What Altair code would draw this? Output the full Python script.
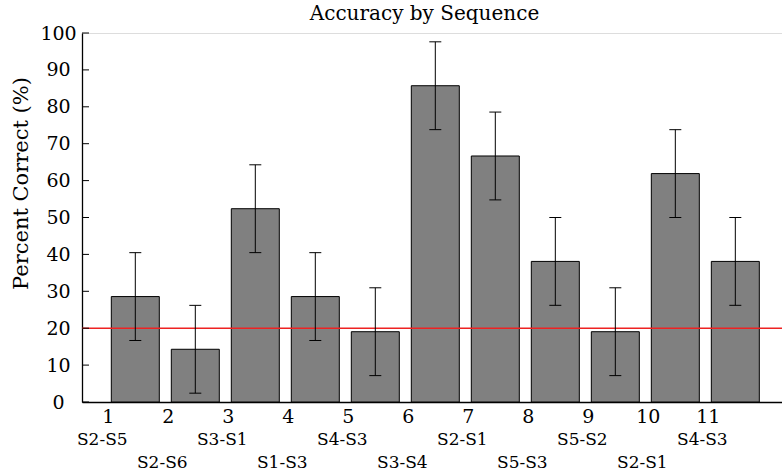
import altair as alt
import pandas as pd

seq_num = [1, 2, 3, 4, 5, 6, 7, 8, 9, 10, 11]
seq_labels = ["S2-S5", "S2-S6", "S3-S1", "S1-S3", "S4-S3", "S3-S4",
              "S2-S1", "S5-S3", "S5-S2", "S2-S1", "S4-S3"]
accuracy = [28.57, 14.29, 52.38, 28.57, 19.05, 85.71, 66.67, 38.10, 19.05, 61.90, 38.10]
error = [11.9, 11.9, 11.9, 11.9, 11.9, 11.9, 11.9, 11.9, 11.9, 11.9, 11.9]
chance_level = [20]
y_ticks = [0, 10, 20, 30, 40, 50, 60, 70, 80, 90, 100]
title_text = ["Accuracy by Sequence"]

FONT = "DejaVu Serif"

df = pd.DataFrame({"num": seq_num, "label": seq_labels, "acc": accuracy, "err": error})
base = alt.Chart(df).transform_calculate(
    lo="datum.num - 0.4",
    hi="datum.num + 0.4",
    cl="datum.num - 0.1",
    cr="datum.num + 0.1",
    elo="datum.acc - datum.err",
    ehi="datum.acc + datum.err",
)

xs = alt.Scale(domain=[0.1117, 11.778], nice=False, zero=False)
ys = alt.Scale(domain=[0, 100], nice=False)

yaxis = alt.Axis(values=y_ticks, tickCount=11, ticks=False, grid=False, labelAlign="center",
                 labelOverlap=False, labelPadding=24, labelFontSize=19,
                 labelColor="black", labelFont=FONT,
                 domainColor="black", domainWidth=1.3,
                 title="Percent Correct (%)", titleFont=FONT, titleFontSize=21,
                 titleFontWeight="normal", titleColor="black", titleX=-61,
                 titleY=150, titleAngle=270, titleAlign="center",
                 titleBaseline="middle")
xaxis = alt.Axis(labels=False, ticks=False, title=None, grid=False,
                 domainColor="black", domainWidth=1.3)

bars = base.mark_bar(fill="#808080", stroke="black", strokeWidth=1).encode(
    x=alt.X("lo:Q", scale=xs, axis=xaxis),
    x2="hi:Q",
    y=alt.Y("acc:Q", scale=ys, axis=yaxis),
    y2=alt.datum(0),
)

chance = alt.Chart(pd.DataFrame({"c": chance_level})).mark_rule(
    color="#ee2222", strokeWidth=1.5).encode(y=alt.Y("c:Q", scale=ys, axis=yaxis))

err_v = base.mark_rule(color="black", strokeWidth=1).encode(
    x=alt.X("num:Q", scale=xs, axis=xaxis), y=alt.Y("elo:Q", scale=ys, axis=yaxis), y2="ehi:Q")
cap_top = base.mark_rule(color="black", strokeWidth=1).encode(
    x=alt.X("cl:Q", scale=xs, axis=xaxis), x2="cr:Q", y=alt.Y("ehi:Q", scale=ys, axis=yaxis))
cap_bot = base.mark_rule(color="black", strokeWidth=1).encode(
    x=alt.X("cl:Q", scale=xs, axis=xaxis), x2="cr:Q", y=alt.Y("elo:Q", scale=ys, axis=yaxis))

yticks = alt.Chart(pd.DataFrame({"t": y_ticks})).mark_rule(
    color="black", strokeWidth=1).encode(
    y=alt.Y("t:Q", scale=ys, axis=yaxis), x=alt.value(0), x2=alt.value(7))

nums = base.mark_text(font=FONT, fontSize=19, dx=-27, baseline="middle",
                      align="center", color="black").encode(
    x=alt.X("num:Q", scale=xs, axis=xaxis), y=alt.value(384), text="num:Q")

labels_top = base.transform_filter("datum.num % 2 == 1").mark_text(
    font=FONT, fontSize=17, dx=-33, baseline="middle", align="center",
    color="black").encode(x=alt.X("num:Q", scale=xs, axis=xaxis), y=alt.value(407),
                          text="label:N")
labels_bot = base.transform_filter("datum.num % 2 == 0").mark_text(
    font=FONT, fontSize=17, dx=-33, baseline="middle", align="center",
    color="black").encode(x=alt.X("num:Q", scale=xs, axis=xaxis), y=alt.value(430),
                          text="label:N")

title = alt.Chart(pd.DataFrame({"t": title_text})).mark_text(
    font=FONT, fontSize=20, baseline="alphabetic", align="center", color="black").encode(
    x=alt.value(342.5), y=alt.value(-13), text="t:N")

chart = alt.layer(
    bars, chance, err_v, cap_top, cap_bot, yticks, nums, labels_top, labels_bot, title
).properties(
    width=700, height=369,
    autosize=alt.AutoSizeParams(type="none"),
    padding={"left": 82, "top": 33, "right": 0, "bottom": 72},
).configure_view(stroke=None).configure_axis(
    labelFont=FONT, titleFont=FONT
).configure_axisY(
    labelOverlap=False, tickCount=11, labelFont=FONT, titleFont=FONT
).configure_text(font=FONT).configure(background="white", font=FONT)

chart.save("out.html", embed_options={"renderer": "svg", "actions": False})
